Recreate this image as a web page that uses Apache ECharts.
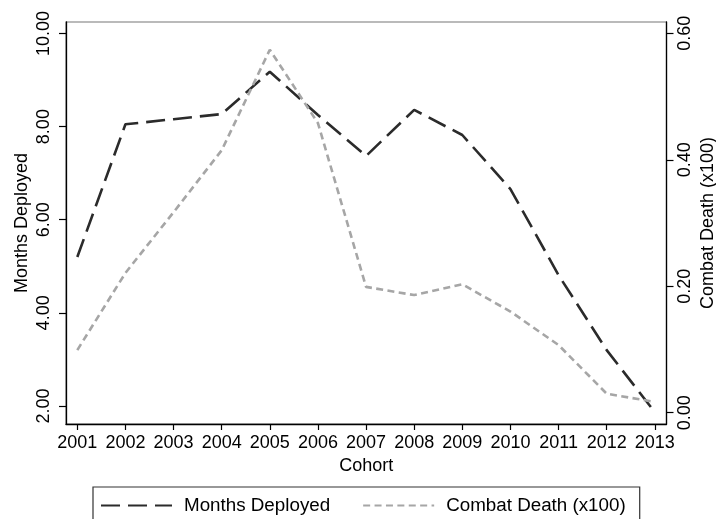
<!DOCTYPE html>
<html>
<head>
<meta charset="utf-8">
<script src="https://cdn.jsdelivr.net/npm/echarts@6/dist/echarts.min.js"></script>
<style>html,body{margin:0;padding:0;background:#fff;}#chart{width:716px;height:519px;}</style>
</head>
<body>
<div id="chart"></div>
<script>
var years = [2001, 2002, 2003, 2004, 2005, 2006, 2007, 2008, 2009, 2010, 2011, 2012, 2013];
var monthsDeployed = [5.20, 8.05, 8.16, 8.27, 9.18, 8.25, 7.37, 8.36, 7.82, 6.66, 4.81, 3.20, 1.87];
var combatDeath = [0.099, 0.221, 0.317, 0.415, 0.574, 0.458, 0.199, 0.186, 0.203, 0.160, 0.107, 0.030, 0.017];
var leftTicks = [2, 4, 6, 8, 10];
var rightTicks = [0, 0.2, 0.4, 0.6];

var FONT = '"Liberation Sans", Arial, Helvetica, sans-serif';
var chart = echarts.init(document.getElementById('chart'), null, {renderer: 'canvas'});

function pairs(vals) { return years.map(function (y, i) { return [y, vals[i]]; }); }

var option = {
  animation: false,
  backgroundColor: '#ffffff',
  textStyle: {fontFamily: FONT, color: '#000'},
  grid: {left: 66, right: 49.5, top: 22, bottom: 95, containLabel: false, outerBoundsMode: 'none',
         show: true, borderColor: '#777', borderWidth: 1.2, backgroundColor: 'transparent'},
  legend: {
    left: 93, top: 487,
    orient: 'horizontal',
    itemWidth: 71, itemHeight: 14, itemGap: 32,
    padding: [9, 14, 30, 7],
    borderColor: '#333', borderWidth: 1.2,
    itemStyle: {opacity: 0},
    textStyle: {fontFamily: FONT, fontSize: 18.8, color: '#000', padding: [0, 0, 0, 7]},
    data: ['Months Deployed', 'Combat Death (x100)']
  },
  xAxis: {
    type: 'value', min: 2000.765, max: 2013.243,
    name: 'Cohort', nameLocation: 'middle', nameGap: 33,
    nameTextStyle: {fontFamily: FONT, fontSize: 18, color: '#000'},
    axisLine: {show: true, onZero: false, lineStyle: {color: '#000', width: 1.3}},
    axisTick: {show: true, length: 6, lineStyle: {color: '#000', width: 1.2}, customValues: years},
    axisLabel: {fontFamily: FONT, fontSize: 18, color: '#000', margin: 10, customValues: years, formatter: function (v) { return String(Math.round(v)); }},
    splitLine: {show: false}
  },
  yAxis: [{
    type: 'value', min: 1.613, max: 10.247, position: 'left',
    name: 'Months Deployed', nameLocation: 'middle', nameGap: 35, nameRotate: 90, nameMoveOverlap: false,
    nameTextStyle: {fontFamily: FONT, fontSize: 18, color: '#000'},
    axisLine: {show: true, onZero: false, lineStyle: {color: '#000', width: 1.3}},
    axisTick: {show: true, length: 7, lineStyle: {color: '#000', width: 1.2}, customValues: leftTicks},
    axisLabel: {fontFamily: FONT, fontSize: 18, color: '#000', rotate: 90, margin: 13, customValues: leftTicks, formatter: function (v) { return v.toFixed(2); }},
    splitLine: {show: false}
  }, {
    type: 'value', min: -0.0179, max: 0.6179, position: 'right',
    name: 'Combat Death (x100)', nameLocation: 'middle', nameGap: 33, nameRotate: 90, nameMoveOverlap: false,
    nameTextStyle: {fontFamily: FONT, fontSize: 18, color: '#000'},
    axisLine: {show: true, onZero: false, lineStyle: {color: '#000', width: 1.3}},
    axisTick: {show: true, length: 7, lineStyle: {color: '#000', width: 1.2}, customValues: rightTicks},
    axisLabel: {fontFamily: FONT, fontSize: 18, color: '#000', rotate: 90, margin: 10, customValues: rightTicks, formatter: function (v) { return v.toFixed(2); }},
    splitLine: {show: false}
  }],
  series: [{
    name: 'Months Deployed', type: 'line', yAxisIndex: 0,
    data: pairs(monthsDeployed),
    symbol: 'none', showSymbol: false,
    lineStyle: {color: '#2b2b2b', width: 2.6, type: [19, 8], cap: 'butt'},
    itemStyle: {color: '#2b2b2b'}
  }, {
    name: 'Combat Death (x100)', type: 'line', yAxisIndex: 1,
    data: pairs(combatDeath),
    symbol: 'none', showSymbol: false,
    lineStyle: {color: '#a6a6a6', width: 2.6, type: [7, 4.4], cap: 'butt'},
    itemStyle: {color: '#a6a6a6'}
  }]
};
chart.setOption(option);
</script>
</body>
</html>
